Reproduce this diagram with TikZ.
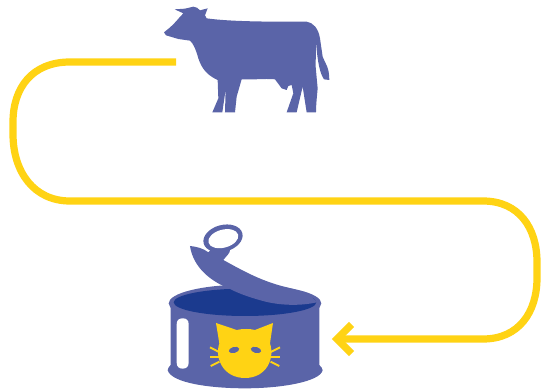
\documentclass[tikz,border=0pt]{standalone}
\definecolor{iconblue}{HTML}{5A64A8}
\definecolor{deepblue}{HTML}{1B3A8E}
\definecolor{catyellow}{HTML}{FFD314}
\tikzset{
  route/.style={draw=catyellow,line width=7.2pt,line join=round},
  cowfill/.style={fill=iconblue,draw=none},
  whisker/.style={draw=catyellow,line width=1.9pt},
  zoomcow/.style={shift={(150,0)},x=0.3333pt,y=-0.3333pt},
  zoomcan/.style={shift={(155,215)},x=0.3333pt,y=-0.3333pt}
}
\begin{document}
\begin{tikzpicture}[x=1pt,y=-1pt]
\useasboundingbox (0,0) rectangle (541,390);
% route
\coordinate (start) at (176,62);
\coordinate (tip) at (337,339);
\path[route] (start) -- (70,62) .. controls (32,62) and (13,88) .. (13,122)
  -- (13,134) .. controls (13,172) and (34,201) .. (70,201)
  -- (483,201) .. controls (519,201) and (537,228) .. (537,262)
  -- (537,278) .. controls (537,312) and (519,339) .. (483,339) -- (tip);
\draw[route,line cap=butt,miter limit=10,line join=miter] (351.5,324.5) -- (tip) -- (351.5,353.5);
% cow
\begin{scope}[zoomcow]
\fill[cowfill] (42,97) -- (58,84) .. controls (75,70) and (85,55) .. (100,40)
  -- (74,28) -- (105,26) -- (130,20) .. controls (138,20) and (145,25) .. (150,31)
  -- (173,25) -- (165,46) -- (170,55) .. controls (220,62) and (300,66) .. (470,65)
  .. controls (490,68) and (505,85) .. (510,115) -- (518,170)
  .. controls (525,190) and (538,200) .. (538,240) -- (522,238)
  .. controls (510,220) and (503,190) .. (498,125) -- (497,200) -- (503,265)
  -- (499,310) -- (498,337) -- (470,337) -- (458,260) -- (440,337) -- (410,337)
  -- (430,280) -- (425,255) -- (415,258) -- (410,270) -- (395,265) -- (375,238)
  .. controls (340,235) and (310,240) .. (275,238) -- (260,290) -- (255,337)
  -- (225,337) -- (227,268) -- (217,337) -- (187,337)
  -- (205,295) -- (203,240) .. controls (170,225) and (155,205) .. (145,175)
  .. controls (138,150) and (130,130) .. (120,122) -- (85,117) -- (48,106) -- cycle;
\end{scope}
% can
\begin{scope}[zoomcan]
% body
\fill[iconblue] (47,265) -- (47,450) .. controls (40,458) and (38,462) .. (38,466)
  .. controls (50,505) and (170,520) .. (270,520) .. controls (380,520) and (495,500) .. (503,466)
  .. controls (503,460) and (498,455) .. (493,450) -- (493,265) -- cycle;
\fill[iconblue] (270,265) ellipse [x radius=229,y radius=56];
\fill[deepblue] (270,262) ellipse [x radius=214,y radius=41];
% lid
\fill[iconblue] (105,93) .. controls (125,95) and (145,100) .. (160,112)
  -- (175,95) -- (225,105) .. controls (225,115) and (215,122) .. (205,135)
  .. controls (260,165) and (320,200) .. (400,218) .. controls (440,228) and (470,240) .. (486,262)
  .. controls (440,272) and (390,272) .. (340,262) .. controls (290,250) and (250,235) .. (225,222)
  .. controls (170,200) and (115,160) .. (105,93) -- cycle;
\fill[iconblue,rotate around={15:(204,70)}] (204,70) ellipse [x radius=60,y radius=40];
\fill[white,rotate around={15:(205,71)}] (205,71) ellipse [x radius=46,y radius=27];
% slot
\fill[white] (65,328) .. controls (65,315) and (72,310) .. (83,310)
  .. controls (94,310) and (101,315) .. (101,328) -- (101,443)
  .. controls (101,455) and (94,461) .. (83,461) .. controls (72,461) and (65,455) .. (65,443) -- cycle;
% cat
\fill[catyellow] (183,324) -- (245,345) .. controls (262,341) and (285,341) .. (300,345)
  -- (354,324) -- (345,385) .. controls (360,430) and (335,489) .. (270,489)
  .. controls (205,489) and (178,430) .. (193,385) -- cycle;
\draw[whisker] (192,411) -- (165,397);
\draw[whisker] (192,425) -- (165,425);
\draw[whisker] (193,440) -- (167,453);
\draw[whisker] (347,411) -- (375,397);
\draw[whisker] (347,425) -- (375,425);
\draw[whisker] (347,440) -- (373,453);
\fill[iconblue,rotate around={15:(237,405)}] (237,405) ellipse [x radius=16,y radius=9];
\fill[iconblue,rotate around={-15:(303,405)}] (303,405) ellipse [x radius=16,y radius=9];
\end{scope}
\end{tikzpicture}
\end{document}
